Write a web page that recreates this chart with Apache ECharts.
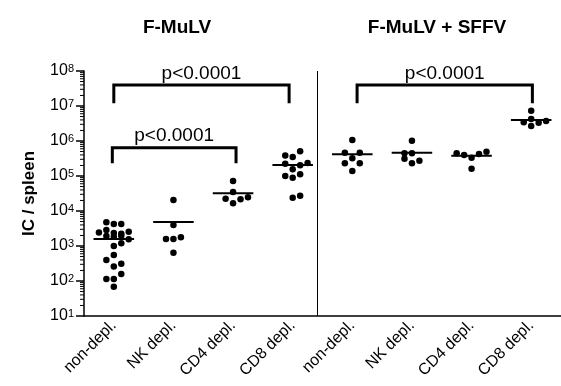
<!DOCTYPE html>
<html>
<head>
<meta charset="utf-8">
<script src="https://cdn.jsdelivr.net/npm/echarts@6/dist/echarts.min.js"></script>
<style>
  html, body { margin: 0; padding: 0; background: #fff; }
  #chart { width: 561px; height: 386px; }
</style>
</head>
<body>
<div id="chart"></div>
<script>
// groups, left panel F-MuLV, right panel F-MuLV + SFFV
const categories = ['non-depl.', 'NK depl.', 'CD4 depl.', 'CD8 depl.', 'non-depl.', 'NK depl.', 'CD4 depl.', 'CD8 depl.'];
const panelTitles = ['F-MuLV', 'F-MuLV + SFFV'];
const yTickExponents = [1, 2, 3, 4, 5, 6, 7, 8];

// IC / spleen, one array per group
const fmNonDepl = [4750, 4250, 4250, 2430, 2870, 2350, 2245, 2560, 1930, 1845, 1970, 1555, 1000, 1195, 553, 398, 312, 259, 158, 114, 114, 69];
const fmNkDepl = [20600, 3980, 1585, 1585, 1775, 644];
const fmCd4Depl = [72000, 34900, 22300, 16600, 21700, 24600];
const fmCd8Depl = [385000, 349000, 508000, 224000, 155000, 202000, 235000, 100000, 88900, 112600, 24000, 27400];
const sfNonDepl = [1070000, 463000, 463000, 320000, 231000, 231000, 139000];
const sfNkDepl = [1020000, 445000, 445000, 312000, 231000, 274000];
const sfCd4Depl = [445000, 398000, 333000, 425000, 495000, 162000];
const sfCd8Depl = [7340000, 4250000, 3420000, 2680000, 3330000, 3730000];
const groups = [fmNonDepl, fmNkDepl, fmCd4Depl, fmCd8Depl, sfNonDepl, sfNkDepl, sfCd4Depl, sfCd8Depl];

// horizontal spread of the dots inside each column (category units)
const jitter = [
  [-0.125, 0, 0.125, -0.25, -0.125, 0, 0.125, 0.25, -0.125, 0, 0.125, 0.25, 0, 0.125, 0, -0.125, 0.125, 0, 0.125, -0.125, 0, 0],
  [0, 0, -0.125, 0, 0.125, 0],
  [0, 0, -0.125, 0, 0.125, 0.25],
  [-0.125, 0, 0.125, -0.125, 0, 0.125, 0.25, -0.125, 0, 0.125, 0, 0.125],
  [0, -0.125, 0.125, 0, -0.125, 0.125, 0],
  [0, -0.125, 0, -0.125, 0, 0.125],
  [-0.25, -0.125, 0, 0.125, 0.25, 0],
  [0, 0, -0.125, 0, 0.125, 0.25]
];

const groupMeans = [1585, 4850, 32100, 206000, 417000, 463000, 380000, 3980000];

const comparisons = [
  { from: 1.0, to: 3.94, top: 3.98e7, foot: 1.19e7, label: 'p<0.0001' },
  { from: 0.975, to: 3.05, top: 6.44e5, foot: 2.31e5, label: 'p<0.0001' },
  { from: 5.08, to: 8.02, top: 3.98e7, foot: 1.19e7, label: 'p<0.0001' }
];

const panelDivider = 4.41;
const font = 'Liberation Sans, Arial, Helvetica, sans-serif';

const points = [];
groups.forEach((vals, g) => {
  vals.forEach((v, i) => points.push([g + 1 + jitter[g][i], v]));
});

// minor ticks of the log axis (2..9 in each decade)
const minorTicks = [];
yTickExponents.slice(0, -1).forEach(e => {
  for (let k = 2; k <= 9; k++) minorTicks.push([0.5, k * Math.pow(10, e)]);
});

const chart = echarts.init(document.getElementById('chart'));

chart.setOption({
  animation: false,
  grid: { left: 84, right: 0, top: 71, bottom: 70 },
  graphic: [
    { type: 'text', x: 177, y: 28, style: { text: panelTitles[0], align: 'center', verticalAlign: 'middle', font: 'bold 19px ' + font, fill: '#000' } },
    { type: 'text', x: 437, y: 28, style: { text: panelTitles[1], align: 'center', verticalAlign: 'middle', font: 'bold 19px ' + font, fill: '#000' } }
  ],
  xAxis: [
    {
      type: 'category',
      data: categories,
      boundaryGap: true,
      axisLine: { show: true, lineStyle: { color: '#000', width: 1.5 } },
      axisTick: { show: false },
      axisLabel: { rotate: 45, margin: 7, fontSize: 16, fontFamily: font, color: '#000', interval: 0 },
      splitLine: { show: false }
    },
    { type: 'value', min: 0.5, max: 8.5, show: false }
  ],
  yAxis: {
    type: 'log',
    logBase: 10,
    min: 10,
    max: 1e8,
    splitNumber: 7,
    axisLine: { show: true, lineStyle: { color: '#000', width: 1.5 } },
    axisTick: { show: true, length: 8, lineStyle: { color: '#000', width: 1.5 } },
    splitLine: { show: false },
    axisLabel: {
      margin: 10,
      formatter: v => '{b|10}{s|' + Math.round(Math.log10(v)) + '}',
      rich: {
        b: { fontSize: 16, fontFamily: font, color: '#000' },
        s: { fontSize: 11, fontFamily: font, color: '#000', verticalAlign: 'top' }
      }
    },
    name: 'IC / spleen',
    nameLocation: 'middle',
    nameGap: 46,
    nameTextStyle: { fontSize: 17, fontWeight: 'bold', fontFamily: font, color: '#000' }
  },
  series: [
    {
      type: 'scatter',
      xAxisIndex: 1,
      symbol: 'circle',
      symbolSize: 6.5,
      itemStyle: { color: '#000', opacity: 1 },
      data: points,
      markLine: {
        silent: true,
        symbol: 'none',
        label: { show: false },
        lineStyle: { color: '#000', width: 1, type: 'solid' },
        data: [{ xAxis: panelDivider }]
      }
    },
    {
      type: 'custom',
      xAxisIndex: 1,
      data: groupMeans.map((m, i) => [i + 1, m]),
      renderItem: (params, api) => {
        const a = api.coord([api.value(0) - 0.34, api.value(1)]);
        const b = api.coord([api.value(0) + 0.34, api.value(1)]);
        return { type: 'line', shape: { x1: a[0], y1: a[1], x2: b[0], y2: b[1] }, style: { stroke: '#000', lineWidth: 2 } };
      }
    },
    {
      type: 'custom',
      xAxisIndex: 1,
      clip: false,
      data: comparisons.map(c => [c.from, c.to, c.top, c.foot]),
      renderItem: (params, api) => {
        const l = api.coord([api.value(0), api.value(2)]);
        const r = api.coord([api.value(1), api.value(2)]);
        const lb = api.coord([api.value(0), api.value(3)]);
        const rb = api.coord([api.value(1), api.value(3)]);
        return {
          type: 'group',
          children: [
            { type: 'polyline', shape: { points: [lb, l, r, rb] }, style: { stroke: '#000', lineWidth: 3, fill: null } },
            {
              type: 'text', x: (l[0] + r[0]) / 2, y: l[1] - 2,
              style: { text: comparisons[params.dataIndex].label, align: 'center', verticalAlign: 'bottom', font: '19px ' + font, fill: '#000' }
            }
          ]
        };
      }
    },
    {
      type: 'custom',
      xAxisIndex: 1,
      clip: false,
      data: minorTicks,
      renderItem: (params, api) => {
        const p = api.coord([api.value(0), api.value(1)]);
        return { type: 'line', shape: { x1: p[0] - 4, y1: p[1], x2: p[0], y2: p[1] }, style: { stroke: '#000', lineWidth: 1 } };
      }
    }
  ]
});
</script>
</body>
</html>
